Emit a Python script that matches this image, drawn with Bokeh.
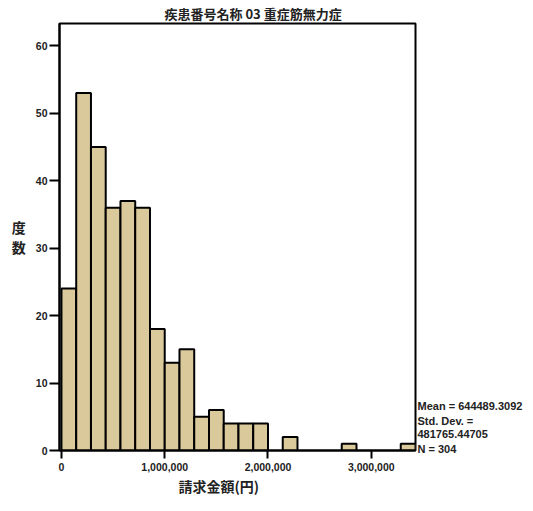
import numpy as np
from bokeh.plotting import figure
from bokeh.models import Range1d, FixedTicker, NumeralTickFormatter, LinearAxis, Title
from bokeh.embed import file_html
from bokeh.resources import INLINE

# ---- data ----
title_text = "疾患番号名称 03 重症筋無力症"
x_label = "請求金額(円)"
y_label = "度\n数"
bin_width = 1_000_000 / 7
counts = [24, 53, 45, 36, 37, 36, 18, 13, 15, 5, 6, 4, 4, 4,
          0, 2, 0, 0, 0, 1, 0, 0, 0, 1]
x_ticks = [0, 1_000_000, 2_000_000, 3_000_000]
y_ticks = [0, 10, 20, 30, 40, 50, 60]
stats_lines = ["Mean = 644489.3092", "Std. Dev. =", "481765.44705", "N = 304"]

edges = np.arange(len(counts) + 1) * bin_width
x0, x1 = -19000, edges[-1]
y0, y1 = 0, 63.3

p = figure(width=525, height=495, output_backend="svg", toolbar_location=None,
           x_range=Range1d(x0, x1), y_range=Range1d(y0, y1),
           min_border_left=0, min_border_right=0,
           min_border_top=0, min_border_bottom=0)
p.background_fill_color = "white"
p.border_fill_color = "white"
p.outline_line_color = "black"
p.outline_line_width = 2
p.grid.visible = False

nz = [i for i, c in enumerate(counts) if c > 0]
p.quad(left=[edges[i] for i in nz], right=[edges[i + 1] for i in nz],
       top=[counts[i] for i in nz], bottom=0,
       fill_color="#d9c99b", line_color="black", line_width=2)

for ax in (p.xaxis[0], p.yaxis[0]):
    ax.axis_line_color = "black"
    ax.axis_line_width = 2
    ax.major_tick_line_color = "black"
    ax.major_tick_line_width = 2
    ax.major_tick_in = 0
    ax.minor_tick_line_color = None
    ax.major_label_text_font = "Liberation Sans"
    ax.major_label_text_font_size = "10.5px"
    ax.major_label_text_font_style = "bold"
    ax.major_label_text_color = "#222222"

p.xaxis.ticker = FixedTicker(ticks=x_ticks)
p.xaxis.formatter = NumeralTickFormatter(format="0,0")
p.xaxis.major_tick_out = 8
p.xaxis.major_label_standoff = 4
p.xaxis.axis_label_standoff = 0
p.yaxis.ticker = FixedTicker(ticks=y_ticks)
p.yaxis.major_tick_out = 10
p.yaxis.major_label_standoff = 2

# y axis label, stacked characters
yax = p.yaxis[0]
yax.axis_label = y_label
if "axis_label_orientation" in yax.properties():
    yax.axis_label_orientation = "horizontal"
yax.axis_label_text_font = "Noto Sans CJK JP"
yax.axis_label_text_font_size = "14px"
yax.axis_label_text_font_style = "bold"
yax.axis_label_text_color = "#222222"
yax.axis_label_text_line_height = 1.04
yax.axis_label_standoff = 7

# blank spacer on the far left
p.add_layout(Title(text=" ", text_font_size="5.5px", standoff=0), "left")

# stats text as a right-side axis with labels at chosen heights
stats_pos = [6.61, 4.43, 2.40, 0.22]
rax = LinearAxis(ticker=FixedTicker(ticks=stats_pos),
                 major_label_overrides={v: t for v, t in zip(stats_pos, stats_lines)},
                 axis_line_color=None, major_tick_line_color=None,
                 minor_tick_line_color=None, major_tick_out=0, minor_tick_out=0,
                 major_label_standoff=2, axis_label_standoff=0,
                 major_label_text_font="Liberation Sans",
                 major_label_text_font_size="11px",
                 major_label_text_font_style="bold",
                 major_label_text_color="#222222")
p.add_layout(rax, "right")

# title above
t = Title(text=title_text, align="left", offset=105, text_font="Noto Sans CJK JP",
          text_font_size="13px", text_font_style="bold", text_color="#222222",
          standoff=2)
p.add_layout(t, "above")

# x label below
xl = Title(text=x_label, align="left", offset=119, text_font="Noto Sans CJK JP",
           text_font_size="14px", text_font_style="bold", text_color="#222222",
           standoff=0)
p.add_layout(xl, "below")

open("out.html", "w").write(file_html(p, INLINE))
